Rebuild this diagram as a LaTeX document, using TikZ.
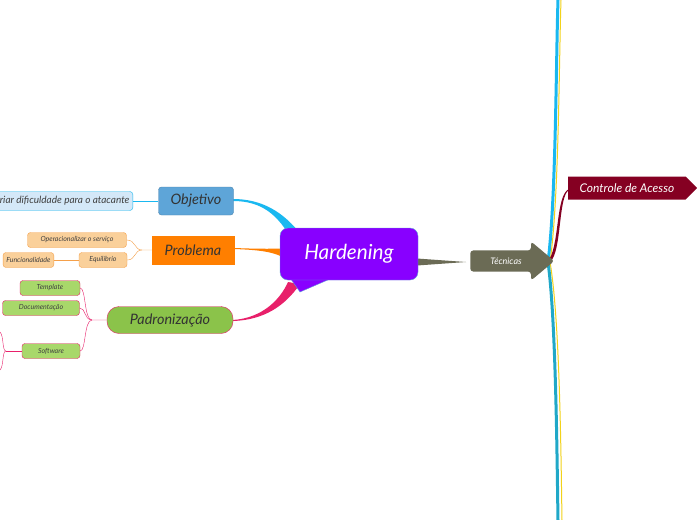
\documentclass[tikz,border=0pt]{standalone}
\usepackage{fontspec}
\setmainfont{Lato}
\usetikzlibrary{positioning,shapes.symbols,shapes.arrows}
\definecolor{hardpurple}{HTML}{8800FF}
\definecolor{tecgrey}{HTML}{6B6B55}
\definecolor{objblue}{HTML}{5EA5D8}
\definecolor{linkblue}{HTML}{1AB8F0}
\definecolor{objlight}{HTML}{D4E8F8}
\definecolor{probor}{HTML}{FF7F00}
\definecolor{problight}{HTML}{FAD09A}
\definecolor{probline}{HTML}{F5A04A}
\definecolor{padgreen}{HTML}{8BC34A}
\definecolor{padlight}{HTML}{A8D86A}
\definecolor{padpink}{HTML}{E8206A}
\definecolor{ctrlred}{HTML}{850022}
\definecolor{lineyel}{HTML}{F2D21A}
\definecolor{lineteal}{HTML}{20A8C8}
\begin{document}
\begin{tikzpicture}[x=1pt,y=-1pt,font=\itshape,
    topic/.style={draw,minimum height=28pt,font=\itshape\Large,text=black!80},
    leaf/.style={draw,rounded corners=3pt,minimum height=15pt,font=\itshape\scriptsize,text=black!75},
    leafwide/.style={leaf,minimum height=19pt,font=\itshape\normalsize}]
    \clip (0,0) rectangle (697,520);
    \useasboundingbox[fill=white] (0,0) rectangle (697,520);
    % vertical lines on the right
    \draw[linkblue,line width=3pt] (548,262) .. controls (556,200) and (556,60) .. (558,0);
    \draw[lineyel,line width=1pt] (550,262) .. controls (559,200) and (559,60) .. (561,0);
    \draw[lineyel,line width=1pt] (550,262) .. controls (560,320) and (561,460) .. (562,520);
    \draw[lineteal,line width=3pt] (548,262) .. controls (556,320) and (557,460) .. (558,520);
    % links to centre
    \fill[linkblue] (233,201) .. controls (262,201) and (278,215) .. (292,240) -- (302,236) .. controls (284,212) and (262,199) .. (233,199) -- cycle;
    \fill[probor] (234,249) .. controls (262,250) and (278,252) .. (290,262) -- (292,248) .. controls (276,249) and (260,249) .. (234,248) -- cycle;
    \fill[padpink] (233,320) .. controls (262,318) and (280,300) .. (288,282) -- (300,284) .. controls (285,306) and (264,320) .. (233,321) -- cycle;
    \fill[tecgrey] (410,258) -- (466,262) -- (410,266) -- cycle;
    \fill[ctrlred] (547,262) .. controls (560,250) and (555,195) .. (569,189) -- (569,190) .. controls (558,196) and (562,252) .. (550,262) -- cycle;
    % centre
    \fill[hardpurple,draw=objblue] (288,275) -- (300,292) -- (330,279) -- cycle;
    \node[fill=hardpurple,draw=objblue,rounded corners=8pt,minimum width=138pt,minimum height=52pt,
        text=white,font=\itshape\huge] (hard) at (349,254) {Hardening};
    \node[single arrow,fill=tecgrey,text=white,font=\itshape\small,minimum height=84pt,
        single arrow head extend=9pt,single arrow tip angle=80,inner ysep=7pt,inner xsep=2pt,rounded corners=3pt] (tec) at (506,261) {Técnicas\hspace{18pt}};
    \node[fill=ctrlred,text=white,font=\itshape\large,minimum height=23pt,minimum width=129pt,
        anchor=west,signal,signal to=east,inner xsep=8pt] (ctrl) at (568,188) {Controle de Acesso};
    % Objetivo
    \node[topic,fill=objblue,draw=objblue!80!black,rounded corners=3pt,minimum width=75pt] (obj) at (196,201) {Objetivo};
    \node[leafwide,fill=objlight,draw=linkblue,anchor=east] (dif) at (133,201) {Criar dificuldade para o atacante};
    \draw[linkblue] (dif) -- (obj);
    % Problema
    \node[topic,fill=probor,draw=probor,minimum width=82pt] (prob) at (193,250) {Problema};
    \node[leaf,fill=problight,draw=probline,minimum width=99pt] (oper) at (77,240) {Operacionalizar o serviço};
    \node[leaf,fill=problight,draw=probline,minimum width=48pt] (equi) at (103,260) {Equilíbrio};
    \node[leaf,fill=problight,draw=probline,anchor=east] (func) at (54,260) {Funcionalidade};
    \draw[probline] (prob.west) -- (142,250) .. controls (134,250) and (136,240) .. (oper.east);
    \draw[probline] (142,250) .. controls (134,250) and (136,260) .. (equi.east);
    \draw[probline] (equi) -- (func);
    % Padronização
    \node[topic,fill=padgreen,draw=padpink,rounded corners=12pt,minimum width=126pt,minimum height=27pt] (pad) at (170,320) {Padronização};
    \node[leaf,fill=padlight,draw=padpink,minimum width=60pt] (temp) at (50,288) {Template};
    \node[leaf,fill=padlight,draw=padpink,minimum width=77pt] (doc) at (41,308) {Documentação};
    \node[leaf,fill=padlight,draw=padpink,minimum width=58pt] (soft) at (51,351) {Software};
    \draw[padpink] (pad.west) -- (92,320) .. controls (84,320) and (86,288) .. (temp.east);
    \draw[padpink] (92,320) .. controls (84,320) and (86,308) .. (doc.east);
    \draw[padpink] (92,320) .. controls (84,320) and (86,351) .. (soft.east);
    \draw[padpink,line width=1pt] (soft.west) -- (6,351);
    \draw[padpink] (6,351) .. controls (2,351) and (4,336) .. (0,332);
    \draw[padpink] (6,351) .. controls (2,351) and (4,366) .. (0,370);
\end{tikzpicture}
\end{document}
